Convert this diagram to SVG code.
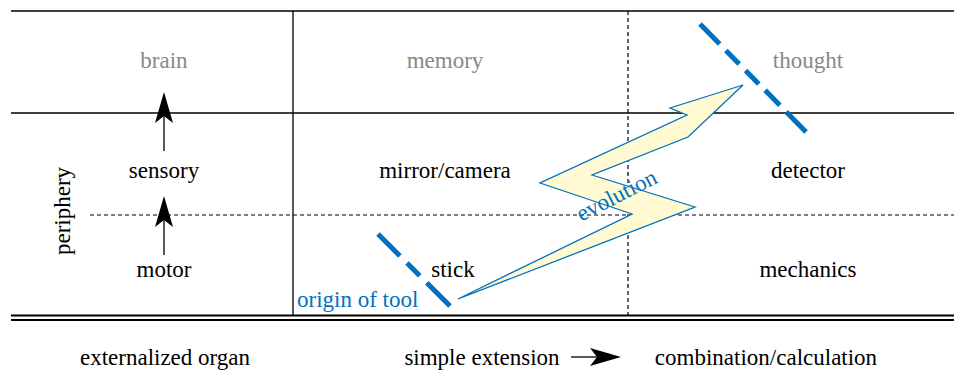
<svg xmlns="http://www.w3.org/2000/svg" width="954" height="374" viewBox="0 0 954 374">
<rect width="954" height="374" fill="#fff"/>
<g id="grid" stroke="#000" stroke-width="1.3" fill="none">
<line x1="11" y1="11" x2="954" y2="11"/>
<line x1="11" y1="113" x2="954" y2="113"/>
<line x1="293" y1="11" x2="293" y2="316"/>
<line x1="628" y1="11" x2="628" y2="316" stroke-width="1.2" stroke-dasharray="4 3"/>
<line x1="90" y1="215" x2="954" y2="215" stroke-width="1.2" stroke-dasharray="4 3"/>
<line x1="11" y1="315.5" x2="954" y2="315.5" stroke-width="1.8"/>
<line x1="11" y1="320" x2="954" y2="320" stroke-width="1.8"/>
</g>
<g id="brain"><text font-family="Liberation Serif, Times New Roman, serif" font-size="23" text-anchor="middle" fill="#888" x="164" y="68">brain</text></g>
<g id="memory"><text font-family="Liberation Serif, Times New Roman, serif" font-size="23" text-anchor="middle" fill="#888" x="445" y="68">memory</text></g>
<g id="thought"><text font-family="Liberation Serif, Times New Roman, serif" font-size="23" text-anchor="middle" fill="#888" x="808" y="68">thought</text></g>
<g id="sensory"><text font-family="Liberation Serif, Times New Roman, serif" font-size="23" text-anchor="middle" x="164" y="178">sensory</text></g>
<g id="mirror"><text font-family="Liberation Serif, Times New Roman, serif" font-size="23" text-anchor="middle" x="445" y="178">mirror/camera</text></g>
<g id="detector"><text font-family="Liberation Serif, Times New Roman, serif" font-size="23" text-anchor="middle" x="808" y="178">detector</text></g>
<g id="motor"><text font-family="Liberation Serif, Times New Roman, serif" font-size="23" text-anchor="middle" x="164" y="277">motor</text></g>
<g id="stick"><text font-family="Liberation Serif, Times New Roman, serif" font-size="23" text-anchor="middle" x="453" y="277">stick</text></g>
<g id="mechanics"><text font-family="Liberation Serif, Times New Roman, serif" font-size="23" text-anchor="middle" x="808" y="277">mechanics</text></g>
<g id="periphery"><text font-family="Liberation Serif, Times New Roman, serif" font-size="23" text-anchor="middle" transform="translate(70,211) rotate(-90)">periphery</text></g>
<g id="connectors">
<line x1="164" y1="116" x2="164" y2="151" stroke="#000" stroke-width="1.3"/>
<polygon points="164,92 173,123 164,116 155,123" fill="#000"/>
<line x1="164" y1="220" x2="164" y2="255" stroke="#000" stroke-width="1.3"/>
<polygon points="164,196 173,227 164,220 155,227" fill="#000"/>
<line x1="571" y1="357" x2="600" y2="357" stroke="#000" stroke-width="1.3"/>
<polygon points="621,357 590,366 597,357 590,348" fill="#000"/>
</g>
<g id="evolution">
<polygon points="743,85 670,108 687,115 540,183 632,214 458,299 695,207 592,175 688,137" fill="#fffad2" stroke="#0070c0" stroke-width="1.3"/>
<text font-family="Liberation Serif, Times New Roman, serif" font-size="23" text-anchor="middle" fill="#0070c0" transform="translate(620,202) rotate(-27)">evolution</text>
</g>
<g id="boundaries" stroke="#0070c0" stroke-width="5" fill="none">
<line x1="700" y1="24" x2="806" y2="132" stroke-dasharray="28 9 19 9 19 9 21 9 30"/>
<line x1="378" y1="234" x2="450" y2="306" stroke-dasharray="31 10 18 10 40"/>
</g>
<g id="origin"><text font-family="Liberation Serif, Times New Roman, serif" font-size="23" fill="#0070c0" x="297" y="307">origin of tool</text></g>
<g id="legend">
<text font-family="Liberation Serif, Times New Roman, serif" font-size="23" text-anchor="middle" x="165" y="365">externalized organ</text>
<text font-family="Liberation Serif, Times New Roman, serif" font-size="23" text-anchor="middle" x="482" y="365">simple extension</text>
<text font-family="Liberation Serif, Times New Roman, serif" font-size="23" text-anchor="middle" x="766" y="365">combination/calculation</text>
</g>
</svg>
